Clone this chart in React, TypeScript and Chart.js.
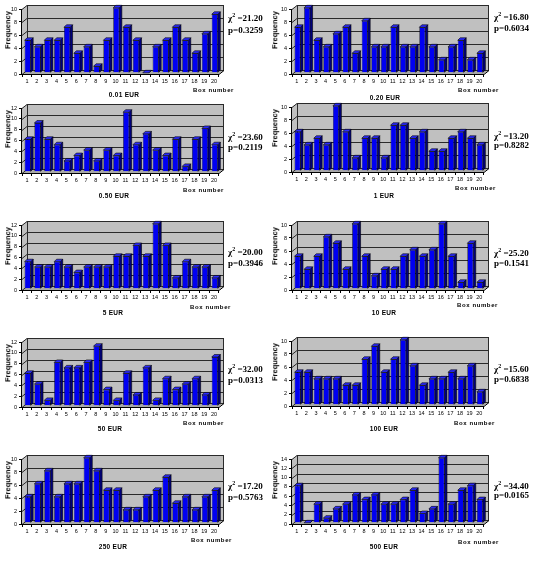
import React, { useEffect, useRef } from 'react';
import { Chart, registerables } from 'chart.js';

Chart.register(...registerables);

// Box numbers along every x axis
const boxNumbers = ['1', '2', '3', '4', '5', '6', '7', '8', '9', '10', '11', '12', '13', '14', '15', '16', '17', '18', '19', '20'];

// Frequencies per box, one array per denomination
const freq001 = [5, 4, 5, 5, 7, 3, 4, 1, 5, 10, 7, 5, 0, 4, 5, 7, 5, 3, 6, 9];
const freq020 = [7, 10, 5, 4, 6, 7, 3, 8, 4, 4, 7, 4, 4, 7, 4, 2, 4, 5, 2, 3];
const freq050 = [6, 9, 6, 5, 2, 3, 4, 2, 4, 3, 11, 5, 7, 4, 3, 6, 1, 6, 8, 5];
const freq1 = [6, 4, 5, 4, 10, 6, 2, 5, 5, 2, 7, 7, 5, 6, 3, 3, 5, 6, 5, 4];
const freq5 = [5, 4, 4, 5, 4, 3, 4, 4, 4, 6, 6, 8, 6, 12, 8, 2, 5, 4, 4, 2];
const freq10 = [5, 3, 5, 8, 7, 3, 10, 5, 2, 3, 3, 5, 6, 5, 6, 10, 5, 1, 7, 1];
const freq50 = [6, 4, 1, 8, 7, 7, 8, 11, 3, 1, 6, 2, 7, 1, 5, 3, 4, 5, 2, 9];
const freq100 = [5, 5, 4, 4, 4, 3, 3, 7, 9, 5, 7, 10, 6, 3, 4, 4, 5, 4, 6, 2];
const freq250 = [4, 6, 8, 4, 6, 6, 10, 8, 5, 5, 2, 2, 4, 5, 7, 3, 4, 2, 4, 5];
const freq500 = [8, 0, 4, 1, 3, 4, 6, 5, 6, 4, 4, 5, 7, 2, 3, 14, 4, 7, 8, 5];

const denominations = ['0.01 EUR', '0.20 EUR', '0.50 EUR', '1 EUR', '5 EUR', '10 EUR', '50 EUR', '100 EUR', '250 EUR', '500 EUR'];
const frequencies = [freq001, freq020, freq050, freq1, freq5, freq10, freq50, freq100, freq250, freq500];
const chiSquared = ['21.20', '16.80', '23.60', '13.20', '20.00', '25.20', '32.00', '15.60', '17.20', '34.40'];
const pValues = ['0.3259', '0.6034', '0.2119', '0.8282', '0.3946', '0.1541', '0.0313', '0.6838', '0.5763', '0.0165'];
const axisMax = [10, 10, 12, 10, 12, 10, 12, 10, 10, 14];

// ---- layout ----
const PLOT_H = 65;
const WALL_DX = 5;
const WALL_DY = -4;
const BAR_SHIFT_X = 0.7;
const BAR_SHIFT_Y = -1.2;
const BAR_DX = 2.5;
const BAR_DY = -2.5;
const AXIS_W = 24;
const AXIS_H = 12;
const PAD_TOP = 6;
const PAD_RIGHT = 8;

const columns = [
  { left: 22, right: 219, freqX: 8, chiX: 228 },
  { left: 292, right: 484, freqX: 275, chiX: 494 },
];

const panelLayout = [
  { base: 74, chiY: 18, pY: 30, titleX: 124, titleY: 95, boxX: 193, boxY: 91 },
  { base: 74, chiY: 17, pY: 28, titleX: 385, titleY: 98, boxX: 458, boxY: 91 },
  { base: 173, chiY: 137, pY: 147, titleX: 114, titleY: 196, boxX: 183, boxY: 191 },
  { base: 172, chiY: 136, pY: 145, titleX: 384, titleY: 196, boxX: 455, boxY: 189 },
  { base: 290, chiY: 252, pY: 263, titleX: 113, titleY: 313, boxX: 190, boxY: 308 },
  { base: 290, chiY: 253, pY: 263, titleX: 384, titleY: 313, boxX: 457, boxY: 306 },
  { base: 407, chiY: 369, pY: 380, titleX: 110, titleY: 429, boxX: 183, boxY: 424 },
  { base: 406, chiY: 369, pY: 379, titleX: 384, titleY: 429, boxX: 454, boxY: 424 },
  { base: 524, chiY: 486, pY: 497, titleX: 113, titleY: 547, boxX: 191, boxY: 541 },
  { base: 524, chiY: 486, pY: 495, titleX: 384, titleY: 547, boxX: 458, boxY: 543 },
];

const WALL = '#c0c0c0';
const FLOOR = '#a8a8a8';
const GRID = '#2a2a2a';
const BAR_FACE = '#0000f2';
const BAR_SIDE = '#00007c';
const BAR_TOP = '#2b2bff';
const SANS = '"Liberation Sans", Arial, sans-serif';
const SERIF = '"Liberation Serif", "Times New Roman", serif';

// Excel-style 3D walls, floor, gridlines and bar depth
const box3d = {
  id: 'box3d',
  beforeDatasetsDraw(chart: any) {
    const { ctx, chartArea } = chart;
    const { left, right, top, bottom } = chartArea;
    const yScale = chart.scales.y;
    ctx.save();
    ctx.lineWidth = 1;

    // back wall
    ctx.fillStyle = WALL;
    ctx.fillRect(left + WALL_DX, top + WALL_DY, right - left, bottom - top);
    // side wall
    ctx.beginPath();
    ctx.moveTo(left, bottom);
    ctx.lineTo(left, top);
    ctx.lineTo(left + WALL_DX, top + WALL_DY);
    ctx.lineTo(left + WALL_DX, bottom + WALL_DY);
    ctx.closePath();
    ctx.fill();
    // floor
    ctx.fillStyle = FLOOR;
    ctx.beginPath();
    ctx.moveTo(left, bottom);
    ctx.lineTo(right, bottom);
    ctx.lineTo(right + WALL_DX, bottom + WALL_DY);
    ctx.lineTo(left + WALL_DX, bottom + WALL_DY);
    ctx.closePath();
    ctx.fill();

    // gridlines on side and back walls
    ctx.strokeStyle = GRID;
    yScale.ticks.forEach((t: any) => {
      const yy = Math.round(yScale.getPixelForValue(t.value)) + 0.5;
      ctx.beginPath();
      ctx.moveTo(left, yy);
      ctx.lineTo(left + WALL_DX, yy + WALL_DY);
      ctx.lineTo(right + WALL_DX, yy + WALL_DY);
      ctx.stroke();
    });
    // wall outline
    ctx.beginPath();
    ctx.moveTo(left + WALL_DX + 0.5, bottom + WALL_DY);
    ctx.lineTo(left + WALL_DX + 0.5, top + WALL_DY);
    ctx.moveTo(right + WALL_DX - 0.5, top + WALL_DY);
    ctx.lineTo(right + WALL_DX - 0.5, bottom + WALL_DY);
    ctx.stroke();

    // front axis lines
    ctx.strokeStyle = '#000';
    ctx.beginPath();
    ctx.moveTo(left - 0.5, top);
    ctx.lineTo(left - 0.5, bottom + 0.5);
    ctx.lineTo(right, bottom + 0.5);
    ctx.lineTo(right + WALL_DX, bottom + WALL_DY + 0.5);
    ctx.stroke();

    // bar tops and right sides
    const meta = chart.getDatasetMeta(0);
    ctx.lineWidth = 0.6;
    ctx.strokeStyle = '#000';
    meta.data.forEach((bar: any) => {
      const p = bar.getProps(['x', 'y', 'base', 'width'], true);
      const x0 = p.x - p.width / 2 + BAR_SHIFT_X;
      const x1 = p.x + p.width / 2 + BAR_SHIFT_X;
      const yt = p.y + BAR_SHIFT_Y;
      const yb = p.base + BAR_SHIFT_Y;
      // side
      ctx.fillStyle = BAR_SIDE;
      ctx.beginPath();
      ctx.moveTo(x1, yb);
      ctx.lineTo(x1, yt);
      ctx.lineTo(x1 + BAR_DX, yt + BAR_DY);
      ctx.lineTo(x1 + BAR_DX, yb + BAR_DY);
      ctx.closePath();
      ctx.fill();
      ctx.stroke();
      // top
      ctx.fillStyle = BAR_TOP;
      ctx.beginPath();
      ctx.moveTo(x0, yt);
      ctx.lineTo(x1, yt);
      ctx.lineTo(x1 + BAR_DX, yt + BAR_DY);
      ctx.lineTo(x0 + BAR_DX, yt + BAR_DY);
      ctx.closePath();
      ctx.fill();
      ctx.stroke();
    });
    ctx.restore();

    // faces sit at mid depth
    ctx.save();
    ctx.translate(BAR_SHIFT_X, BAR_SHIFT_Y);
  },
  afterDatasetsDraw(chart: any) {
    chart.ctx.restore();
  },
};

function Panel({ index }: { index: number }) {
  const ref = useRef<HTMLCanvasElement>(null);
  const col = columns[index % 2];
  const lay = panelLayout[index];
  const top = lay.base - PLOT_H;
  const cLeft = col.left - AXIS_W;
  const cTop = top - PAD_TOP;
  const cWidth = col.right - col.left + AXIS_W + PAD_RIGHT;
  const cHeight = PLOT_H + PAD_TOP + AXIS_H;

  useEffect(() => {
    if (!ref.current) return;
    const chart = new Chart(ref.current, {
      type: 'bar',
      data: {
        labels: boxNumbers,
        datasets: [
          {
            data: frequencies[index],
            backgroundColor: BAR_FACE,
            borderColor: '#000',
            borderWidth: 0.6,
            barPercentage: 0.62,
            categoryPercentage: 1,
            clip: false as any,
          },
        ],
      },
      options: {
        animation: false,
        responsive: false,
        devicePixelRatio: 1,
        layout: { padding: { top: PAD_TOP, right: PAD_RIGHT, left: 0, bottom: 0 } },
        plugins: { legend: { display: false }, tooltip: { enabled: false } },
        scales: {
          x: {
            grid: { drawOnChartArea: false, drawTicks: true, tickLength: 3, color: '#000', offset: true },
            border: { display: false },
            ticks: {
              autoSkip: false,
              maxRotation: 0,
              padding: 1,
              color: '#000',
              font: { family: SANS, size: 5.5 },
            },
            afterFit: (s: any) => {
              s.height = AXIS_H;
            },
          },
          y: {
            min: 0,
            max: axisMax[index],
            grid: { drawOnChartArea: false, drawTicks: true, tickLength: 3, color: '#000' },
            border: { display: false },
            ticks: {
              stepSize: 2,
              autoSkip: false,
              padding: 2,
              color: '#000',
              font: { family: SANS, size: 5.5 },
            },
            afterFit: (s: any) => {
              s.width = AXIS_W;
            },
          },
        },
      },
      plugins: [box3d],
    });
    return () => chart.destroy();
  }, [index]);

  const abs = (x: number, y: number, size: number): React.CSSProperties => ({
    position: 'absolute',
    left: x,
    top: y - size * 0.6,
    lineHeight: 1.2 + '',
    fontSize: size,
    whiteSpace: 'nowrap',
    color: '#000',
    willChange: 'transform',
  });

  return (
    <>
      <canvas
        ref={ref}
        width={cWidth}
        height={cHeight}
        style={{ position: 'absolute', left: cLeft, top: cTop, width: cWidth, height: cHeight }}
      />
      <div
        style={{
          position: 'absolute',
          left: col.freqX,
          top: lay.base - 44,
          transform: 'translate(-50%, -50%) rotate(-90deg)',
          fontFamily: SANS,
          fontWeight: 'bold',
          fontSize: 7.5,
          whiteSpace: 'nowrap',
          lineHeight: 1,
        }}
      >
        Frequency
      </div>
      <div
        style={{
          ...abs(lay.titleX, lay.titleY, 6.5),
          transform: 'translateX(-50%)',
          fontFamily: SANS,
          fontWeight: 'bold',
          letterSpacing: 0.3,
        }}
      >
        {denominations[index]}
      </div>
      <div style={{ ...abs(lay.boxX, lay.boxY, 6), fontFamily: SANS, fontWeight: 'bold', letterSpacing: 0.6 }}>
        Box number
      </div>
      <div style={{ ...abs(col.chiX, lay.chiY, 9), fontFamily: SERIF, fontWeight: 'bold' }}>
        χ<sup style={{ fontSize: 6, verticalAlign: 'top', position: 'relative', top: -1 }}>2</sup> ={chiSquared[index]}
      </div>
      <div style={{ ...abs(col.chiX, lay.pY, 9), fontFamily: SERIF, fontWeight: 'bold' }}>p={pValues[index]}</div>
    </>
  );
}

export default function App() {
  return (
    <div style={{ position: 'absolute', left: 0, top: 0, width: 533, height: 561, background: '#fff', overflow: 'hidden' }}>
      {denominations.map((_, i) => (
        <Panel key={i} index={i} />
      ))}
    </div>
  );
}
